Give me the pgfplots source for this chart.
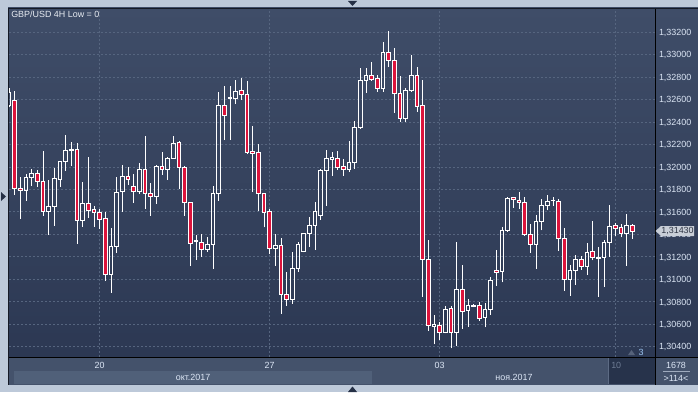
\documentclass[border=0pt]{standalone}
\usepackage{pgfplots}
\pgfplotsset{compat=1.18}
\usepackage{pgfplotstable}
\usepackage{fontspec}
\setmainfont{Liberation Sans}
\definecolor{outerbg}{HTML}{BDC9D9}
\definecolor{bgtop}{HTML}{3F4D68}
\definecolor{bgbot}{HTML}{2C3853}
\definecolor{gridc}{HTML}{56657F}
\definecolor{stripc}{HTML}{44526B}
\definecolor{bandc}{HTML}{506079}
\definecolor{boxdark}{HTML}{27334B}
\definecolor{boxedge}{HTML}{5D6B84}
\definecolor{candred}{HTML}{DC143C}
\definecolor{labc}{HTML}{DCE6F5}
\definecolor{titlec}{HTML}{E8ECF2}
\definecolor{tagc}{HTML}{C8CED7}
\definecolor{tagtext}{HTML}{2E3544}
\definecolor{arrowc}{HTML}{253046}
\definecolor{darkline}{HTML}{151A26}
\definecolor{graytext}{HTML}{6E7C94}
\definecolor{threec}{HTML}{9CC4F0}
\definecolor{tric}{HTML}{56627A}
\newcommand\chartfont{\fontsize{6.7pt}{8pt}\selectfont}

\pgfplotstableread{
x o h l c
0 1.32547 1.32701 1.32532 1.32666
1 1.32589 1.32678 1.31752 1.31805
2 1.31811 1.31915 1.31538 1.31793
3 1.31790 1.31939 1.31698 1.31909
4 1.31909 1.31983 1.31835 1.31944
5 1.31944 1.31974 1.31826 1.31870
6 1.31870 1.32143 1.31565 1.31603
7 1.31603 1.31885 1.31396 1.31648
8 1.31648 1.31995 1.31476 1.31900
9 1.31891 1.32054 1.31826 1.32051
10 1.32051 1.32286 1.31965 1.32143
11 1.32149 1.32227 1.32010 1.32158
12 1.32158 1.32212 1.31315 1.31523
13 1.31523 1.31867 1.31467 1.31677
14 1.31677 1.32090 1.31550 1.31612
15 1.31624 1.31657 1.31470 1.31597
16 1.31597 1.31627 1.31449 1.31535
17 1.31544 1.31597 1.30986 1.31045
18 1.31045 1.31455 1.30882 1.31295
19 1.31295 1.31909 1.31238 1.31775
20 1.31781 1.32016 1.31600 1.31918
21 1.31918 1.32001 1.31841 1.31891
22 1.31829 1.31939 1.31683 1.31784
23 1.31784 1.32034 1.31761 1.31980
24 1.31980 1.32277 1.31627 1.31767
25 1.31767 1.31859 1.31565 1.31740
26 1.31740 1.32016 1.31674 1.32001
27 1.32007 1.32132 1.31930 1.31974
28 1.31974 1.32093 1.31885 1.32078
29 1.32078 1.32277 1.32075 1.32212
30 1.32218 1.32230 1.31805 1.31998
31 1.31998 1.32013 1.31565 1.31683
32 1.31686 1.31689 1.31119 1.31321
33 1.31333 1.31396 1.31173 1.31348
34 1.31330 1.31404 1.31203 1.31268
35 1.31268 1.31378 1.31247 1.31312
36 1.31312 1.31832 1.31093 1.31767
37 1.31767 1.32672 1.31698 1.32550
38 1.32550 1.32722 1.32241 1.32461
39 1.32609 1.32725 1.32241 1.32621
40 1.32609 1.32776 1.32562 1.32675
41 1.32684 1.32790 1.32598 1.32648
42 1.32648 1.32767 1.32117 1.32129
43 1.32140 1.32366 1.31781 1.32123
44 1.32129 1.32206 1.31609 1.31761
45 1.31761 1.31764 1.31464 1.31594
46 1.31606 1.31630 1.31223 1.31277
47 1.31277 1.31404 1.31122 1.31301
48 1.31301 1.31366 1.30692 1.30867
49 1.30867 1.31063 1.30766 1.30823
50 1.30823 1.31241 1.30784 1.31099
51 1.31099 1.31330 1.31066 1.31312
52 1.31250 1.31410 1.31241 1.31410
53 1.31410 1.31553 1.31292 1.31482
54 1.31482 1.31692 1.31262 1.31603
55 1.31571 1.31983 1.31529 1.31971
56 1.31971 1.32152 1.31654 1.32078
57 1.32069 1.32132 1.31924 1.32081
58 1.32078 1.32143 1.31974 1.31998
59 1.32001 1.32069 1.31924 1.31980
60 1.31980 1.32232 1.31956 1.32040
61 1.32040 1.32411 1.31983 1.32354
62 1.32354 1.32879 1.32342 1.32773
63 1.32773 1.32879 1.32663 1.32817
64 1.32817 1.32936 1.32776 1.32779
65 1.32790 1.32820 1.32672 1.32698
66 1.32698 1.33111 1.32672 1.33022
67 1.33022 1.33212 1.32894 1.32948
68 1.32951 1.33061 1.32485 1.32657
69 1.32657 1.32811 1.32405 1.32431
70 1.32431 1.32701 1.32405 1.32684
71 1.32684 1.32998 1.32672 1.32817
72 1.32817 1.32891 1.32491 1.32541
73 1.32550 1.32776 1.30846 1.31179
74 1.31179 1.31351 1.30544 1.30591
75 1.30582 1.30683 1.30422 1.30594
76 1.30591 1.30624 1.30461 1.30529
77 1.30529 1.30766 1.30520 1.30734
78 1.30743 1.30763 1.30386 1.30529
79 1.30529 1.31333 1.30410 1.30912
80 1.30912 1.31128 1.30559 1.30716
81 1.30725 1.30826 1.30579 1.30769
82 1.30763 1.30778 1.30751 1.30769
83 1.30769 1.30799 1.30630 1.30654
84 1.30662 1.30787 1.30573 1.30734
85 1.30734 1.31022 1.30683 1.30992
86 1.31081 1.31262 1.30944 1.31063
87 1.31072 1.31464 1.30974 1.31437
88 1.31437 1.31734 1.31422 1.31722
89 1.31728 1.31737 1.31639 1.31707
90 1.31701 1.31778 1.31627 1.31686
91 1.31683 1.31731 1.31390 1.31401
92 1.31401 1.31490 1.31238 1.31312
93 1.31312 1.31574 1.31096 1.31511
94 1.31511 1.31719 1.31437 1.31660
95 1.31660 1.31752 1.31615 1.31695
96 1.31698 1.31737 1.31657 1.31704
97 1.31695 1.31716 1.31256 1.31366
98 1.31366 1.31458 1.30900 1.30995
99 1.30995 1.31125 1.30855 1.31075
100 1.31075 1.31217 1.30953 1.31173
101 1.31173 1.31206 1.31084 1.31117
102 1.31117 1.31324 1.31042 1.31241
103 1.31250 1.31520 1.31170 1.31194
104 1.31185 1.31292 1.30846 1.31197
105 1.31197 1.31351 1.30935 1.31324
106 1.31324 1.31663 1.31203 1.31473
107 1.31479 1.31502 1.31387 1.31455
108 1.31464 1.31490 1.31375 1.31410
109 1.31410 1.31582 1.31122 1.31482
110 1.31482 1.31493 1.31360 1.31430
}\candles

\pgfplotsset{candleaxis/.style={at={(6.75pt,-267.75pt)}, anchor=south west,
  width=484.5pt, height=261pt, scale only axis,
  xmin=0, xmax=114, ymin=1.30309, ymax=1.33407}}

\begin{document}
\begin{tikzpicture}
\begin{scope}[x=0.75pt,y=-0.75pt]
\fill[outerbg] (0,0) rectangle (698,392);
\shade[top color=bgtop,bottom color=bgbot] (8,8) rectangle (698,357);
\fill[stripc] (8,357) rectangle (698,385);
\fill[bandc] (14,371) rectangle (372,384);
\fill[boxdark] (608,358) rectangle (655,384);
\end{scope}

\begin{axis}[candleaxis,
  axis line style={draw=none},
  xtick={16,46,76,107}, xticklabels={20,27,03,{}},
  ytick={1.304,1.306,1.308,1.310,1.312,1.314,1.316,1.318,1.320,1.322,1.324,1.326,1.328,1.330,1.332},
  yticklabel pos=right,
  tick style={draw=none}, major tick length=0pt,
  grid=major,
  major grid style={draw=gridc, line width=0.75pt, dash pattern=on 1.5pt off 1.5pt},
  yticklabel style={font=\chartfont, text=labc, anchor=base west, inner sep=0pt,
    xshift=2.8pt, yshift=-2.4pt,
    /pgf/number format/.cd, fixed, fixed zerofill, precision=5, use comma, assume math mode=true},
  xticklabel style={font=\chartfont, text=labc, anchor=base, inner sep=0pt, yshift=-8.8pt},
]
\addplot[draw=none, mark=none, forget plot,
  error bars/.cd, y dir=plus, y explicit, error mark=none,
  error bar style={draw=white, line width=0.75pt}]
  table[x=x, y expr={max(\thisrow{o},\thisrow{c})},
        y error plus expr={\thisrow{h}-max(\thisrow{o},\thisrow{c})}]{\candles};
\addplot[draw=none, mark=none, forget plot,
  error bars/.cd, y dir=plus, y explicit, error mark=none,
  error bar style={draw=white, line width=0.75pt}]
  table[x=x, y=l,
        y error plus expr={min(\thisrow{o},\thisrow{c})-\thisrow{l}}]{\candles};
\end{axis}

\begin{axis}[candleaxis, hide axis, ybar stacked, bar width=2.8pt]
\addplot[draw=none, fill=none] table[x=x, y expr={min(\thisrow{o},\thisrow{c})}]{\candles};
\addplot[fill=candred, draw=white, line width=0.75pt] table[x=x, y expr={max(\thisrow{o}-\thisrow{c},0)}]{\candles};
\addplot[fill=none, draw=white, line width=0.75pt] table[x=x, y expr={max(\thisrow{c}-\thisrow{o},0)}]{\candles};
\end{axis}

\begin{scope}[x=0.75pt,y=-0.75pt]
\draw[line width=0.75pt, draw=darkline] (8,8.5) -- (698,8.5);
\draw[line width=0.75pt, draw=darkline] (8.5,8) -- (8.5,385);
\draw[line width=0.75pt, draw=black] (9,357) -- (698,357);
\draw[line width=0.75pt, draw=black] (655,9) -- (655,385);
\draw[line width=0.75pt, draw=boxedge] (608.5,358) -- (608.5,384);
\node[font=\chartfont, text=labc] at (193,377.5) {окт.2017};
\node[font=\chartfont, text=labc] at (514,377.5) {ноя.2017};
\node[font=\chartfont, text=graytext, anchor=west, inner sep=0pt] at (611,365.5) {10};
\node[font=\chartfont, text=labc] at (676,365) {1678};
\draw[line width=0.75pt, draw=labc!60!stripc] (663,371.5) -- (690,371.5);
\node[font=\chartfont, text=labc] at (676,378) {>114<};
\fill[tagc] (655.5,231) -- (661,226) -- (694,226) -- (694,236) -- (661,236) -- cycle;
\node[font=\chartfont, text=tagtext] at (677.5,231) {1,31430};
\node[font=\chartfont, text=titlec, anchor=west, inner sep=0pt] at (11,14.7) {GBP/USD 4H Low = 0};
\fill[arrowc] (348,1) -- (357,1) -- (352.5,6) -- cycle;
\fill[arrowc] (348,392) -- (357,392) -- (352.5,386.5) -- cycle;
\fill[arrowc] (1,192) -- (1,201) -- (6,196.5) -- cycle;
\fill[tric] (628,355) -- (635,355) -- (631.5,350) -- cycle;
\node[font=\chartfont, text=threec] at (641,352) {3};
\end{scope}
\pgfresetboundingbox
\path (0pt,0pt) rectangle (523.5pt,-294pt);
\end{tikzpicture}
\end{document}
